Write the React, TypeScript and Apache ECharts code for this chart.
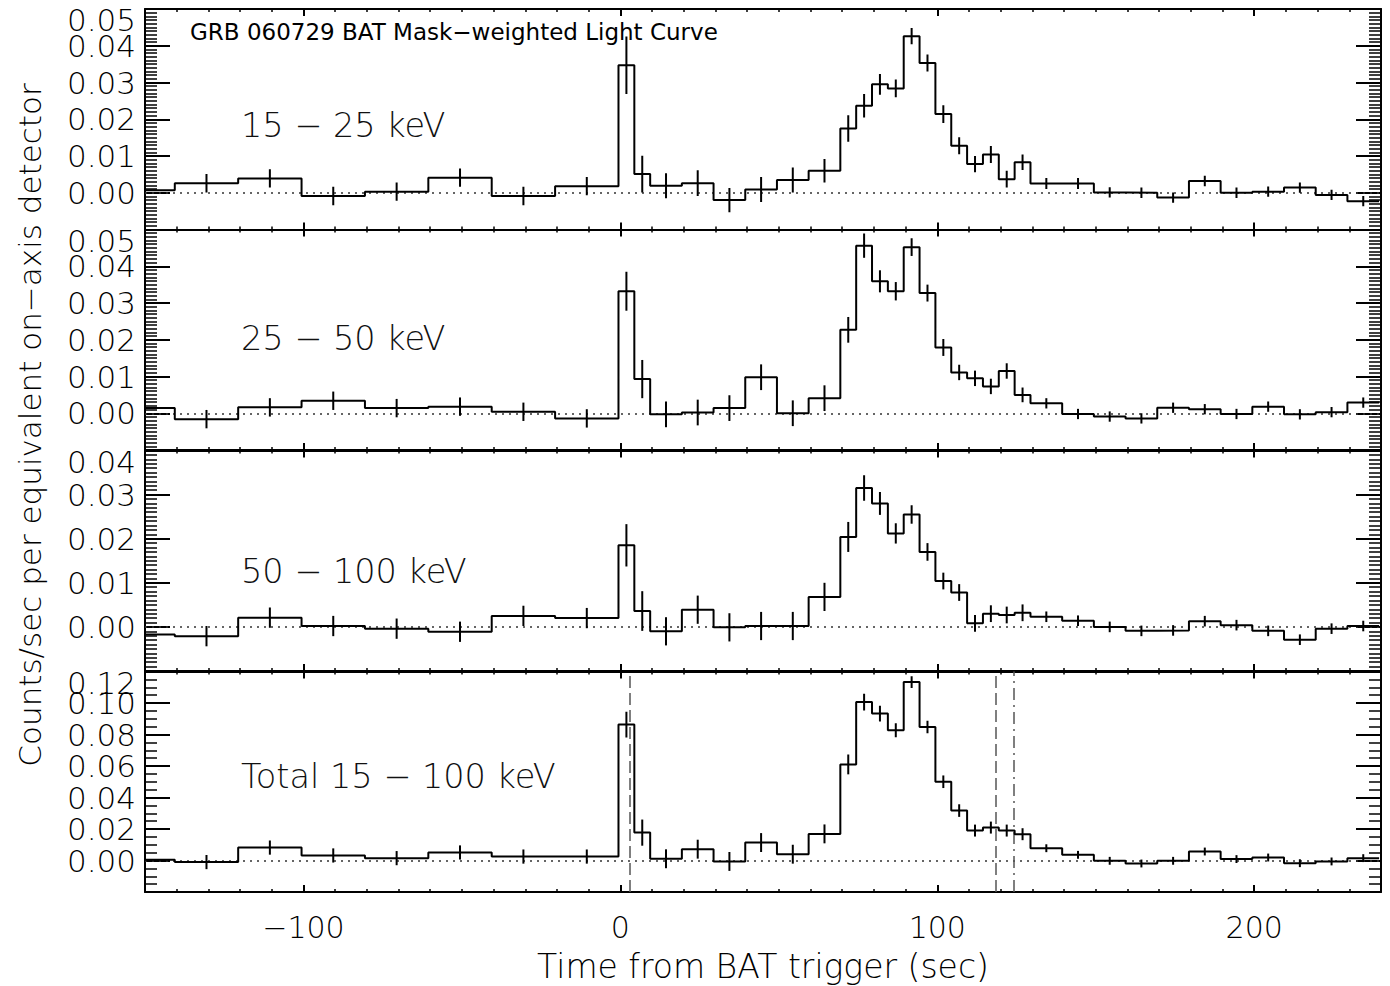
import React, { useEffect, useRef } from 'react';
import * as echarts from 'echarts';

// Bin edges (seconds from BAT trigger), 39 bins
const binEdges = [
  -160.6, -140.6, -120.6, -100.6, -80.6, -60.6, -40.6, -20.6,
  -0.6, 4.4,
  9.4, 19.4, 29.4, 39.4, 49.4, 59.4,
  69.4, 74.4, 79.4, 84.4, 89.4, 94.4, 99.4, 104.4, 109.4, 114.4, 119.4, 124.4,
  129.4, 139.4, 149.4, 159.4, 169.4, 179.4, 189.4, 199.4, 209.4, 219.4, 229.4,
  239.4,
];

const rate15_25 = [
  0.0007, 0.0026, 0.0039, -0.0009, 0.0003, 0.0041, -0.0009, 0.0018,
  0.0347, 0.0051,
  0.0019, 0.0026, -0.0020, 0.0009, 0.0035, 0.0060,
  0.0175, 0.0237, 0.0295, 0.0284, 0.0426, 0.0353, 0.0214, 0.0128, 0.0078, 0.0104, 0.0037, 0.0083,
  0.0025, 0.0025, 0.0001, 0.0000, -0.0013, 0.0032, 0.0000, 0.0003, 0.0014, -0.0006, -0.0023,
];
const err15_25 = [
  0.0025, 0.0025, 0.0025, 0.0025, 0.0025, 0.0025, 0.0025, 0.0025,
  0.0078, 0.0050,
  0.0034, 0.0035, 0.0033, 0.0034, 0.0034, 0.0032,
  0.0036, 0.0032, 0.0028, 0.0024, 0.0022, 0.0023, 0.0024, 0.0023, 0.0022, 0.0023, 0.0023, 0.0021,
  0.0015, 0.0015, 0.0014, 0.0014, 0.0014, 0.0014, 0.0014, 0.0014, 0.0014, 0.0014, 0.0014,
];

const rate25_50 = [
  0.0014, -0.0016, 0.0016, 0.0034, 0.0014, 0.0018, 0.0004, -0.0014,
  0.0332, 0.0093,
  -0.0003, 0.0002, 0.0014, 0.0098, 0.0000, 0.0041,
  0.0227, 0.0456, 0.0359, 0.0332, 0.0452, 0.0327, 0.0179, 0.0111, 0.0095, 0.0073, 0.0115, 0.0050,
  0.0027, -0.0002, -0.0009, -0.0014, 0.0015, 0.0011, -0.0002, 0.0018, -0.0003, 0.0003, 0.0029,
];
const err25_50 = [
  0.0025, 0.0025, 0.0025, 0.0025, 0.0025, 0.0025, 0.0025, 0.0025,
  0.0053, 0.0052,
  0.0035, 0.0035, 0.0035, 0.0035, 0.0035, 0.0035,
  0.0035, 0.0033, 0.0030, 0.0025, 0.0024, 0.0023, 0.0023, 0.0021, 0.0021, 0.0021, 0.0021, 0.0020,
  0.0014, 0.0014, 0.0014, 0.0014, 0.0014, 0.0014, 0.0014, 0.0014, 0.0014, 0.0014, 0.0014,
];

const rate50_100 = [
  -0.0017, -0.0021, 0.0021, 0.0002, -0.0004, -0.0011, 0.0025, 0.0020,
  0.0185, 0.0036,
  -0.0010, 0.0039, -0.0001, 0.0002, 0.0002, 0.0068,
  0.0204, 0.0315, 0.0280, 0.0212, 0.0255, 0.0170, 0.0104, 0.0078, 0.0008, 0.0030, 0.0027, 0.0032,
  0.0023, 0.0014, 0.0000, -0.0009, -0.0008, 0.0013, 0.0004, -0.0009, -0.0029, -0.0004, 0.0002,
];
const err50_100 = [
  0.0023, 0.0023, 0.0023, 0.0023, 0.0023, 0.0023, 0.0023, 0.0023,
  0.0048, 0.0045,
  0.0032, 0.0032, 0.0032, 0.0032, 0.0032, 0.0032,
  0.0034, 0.0029, 0.0026, 0.0023, 0.0021, 0.0020, 0.0019, 0.0019, 0.0019, 0.0019, 0.0019, 0.0019,
  0.0012, 0.0012, 0.0012, 0.0012, 0.0012, 0.0012, 0.0012, 0.0012, 0.0012, 0.0012, 0.0012,
];

const rateTotal = [
  0.0004, -0.0010, 0.0082, 0.0032, 0.0015, 0.0051, 0.0025, 0.0025,
  0.0863, 0.0177,
  0.0011, 0.0072, -0.0006, 0.0114, 0.0040, 0.0169,
  0.0610, 0.1006, 0.0933, 0.0827, 0.1133, 0.0848, 0.0500, 0.0317, 0.0190, 0.0209, 0.0190, 0.0167,
  0.0078, 0.0036, -0.0002, -0.0019, -0.0002, 0.0057, 0.0009, 0.0019, -0.0017, -0.0006, 0.0015,
];
const errTotal = [
  0.0045, 0.0045, 0.0045, 0.0045, 0.0045, 0.0045, 0.0045, 0.0045,
  0.0082, 0.0083,
  0.0060, 0.0060, 0.0060, 0.0060, 0.0060, 0.0060,
  0.0063, 0.0053, 0.0050, 0.0045, 0.0037, 0.0040, 0.0040, 0.0040, 0.0038, 0.0038, 0.0038, 0.0038,
  0.0025, 0.0025, 0.0025, 0.0025, 0.0025, 0.0025, 0.0025, 0.0025, 0.0025, 0.0025, 0.0025,
];

const panelRates = [rate15_25, rate25_50, rate50_100, rateTotal];
const panelErrs = [err15_25, err25_50, err50_100, errTotal];
const panelLabels = ['15 − 25 keV', '25 − 50 keV', '50 − 100 keV', 'Total 15 − 100 keV'];
const yMins = [-0.01, -0.01, -0.01, -0.02];
const yMaxs = [0.05, 0.05, 0.04, 0.12];
const yIntervals = [0.01, 0.01, 0.01, 0.02];
const yMinorSplits = [10, 10, 10, 4];
const xMin = -150;
const xMax = 240;

// Duration markers in the total panel (s)
const dashedMarkers = [3.0, 118.5];
const dashDotMarkers = [124.0];

const titleText = 'GRB 060729 BAT Mask−weighted Light Curve';
const xTitle = 'Time from BAT trigger (sec)';
const yTitle = 'Counts/sec per equivalent on−axis detector';

const FONT = "'DejaVu Sans', sans-serif";

const gridLeft = 145;
const gridWidth = 1236;
const gridTops = [9, 229.5, 450.5, 671.5];
const gridHeight = 220.5;
const labelCenters = [125, 338, 571, 776];

function fmtX(v: number): string {
  if (Math.abs(v % 100) > 1e-6) return '';
  if (v < 0) return '−' + Math.abs(v);
  return String(v);
}

export default function App() {
  const ref = useRef<HTMLDivElement>(null);

  useEffect(() => {
    if (!ref.current) return;
    const chart = echarts.init(ref.current, undefined, { renderer: 'svg' });

    const grids: any[] = [];
    const xAxes: any[] = [];
    const yAxes: any[] = [];
    const series: any[] = [];

    for (let g = 0; g < 4; g++) {
      grids.push({
        left: gridLeft, top: gridTops[g], width: gridWidth, height: gridHeight,
        containLabel: false, outerBoundsMode: 'none',
      });
      const isBottom = g === 3;
      xAxes.push({
        type: 'value', gridIndex: g, position: 'bottom', min: xMin, max: xMax, interval: 10,
        axisLine: { show: true, onZero: false, lineStyle: { color: '#000', width: 2 } },
        axisTick: { show: true, inside: true, length: 3, lineStyle: { color: '#000', width: 1.5 } },
        axisLabel: { show: false }, splitLine: { show: false },
      });
      xAxes.push({
        type: 'value', gridIndex: g, position: 'bottom', min: xMin, max: xMax, splitNumber: 4,
        axisLine: { show: false, onZero: false },
        axisTick: { show: true, inside: true, length: 7, lineStyle: { color: '#000', width: 2 } },
        axisLabel: {
          show: isBottom, showMinLabel: false, showMaxLabel: false, margin: 20,
          formatter: fmtX, color: '#000', fontSize: 30, fontFamily: FONT, fontWeight: 300,
        },
        splitLine: { show: false },
        name: isBottom ? xTitle : '', nameLocation: 'middle', nameGap: 58,
        nameTextStyle: { color: '#000', fontSize: 33, lineHeight: 33, fontFamily: FONT, fontWeight: 300 },
      });
      xAxes.push({
        type: 'value', gridIndex: g, position: 'top', min: xMin, max: xMax, interval: 10,
        axisLine: { show: true, onZero: false, lineStyle: { color: '#000', width: 2 } },
        axisTick: { show: true, inside: true, length: 3, lineStyle: { color: '#000', width: 1.5 } },
        axisLabel: { show: false }, splitLine: { show: false },
      });
      xAxes.push({
        type: 'value', gridIndex: g, position: 'top', min: xMin, max: xMax, splitNumber: 4,
        axisLine: { show: false, onZero: false },
        axisTick: { show: true, inside: true, length: 7, lineStyle: { color: '#000', width: 2 } },
        axisLabel: { show: false }, splitLine: { show: false },
      });

      const yCommon = {
        type: 'value', gridIndex: g, min: yMins[g], max: yMaxs[g], interval: yIntervals[g],
        axisLine: { show: true, onZero: false, lineStyle: { color: '#000', width: 2 } },
        axisTick: { show: true, inside: true, length: 25, lineStyle: { color: '#000', width: 2 } },
        minorTick: { show: true, splitNumber: yMinorSplits[g], length: 12, lineStyle: { color: '#000', width: 1.5 } },
        splitLine: { show: false },
        minorSplitLine: { show: false },
      };
      yAxes.push({
        ...yCommon, position: 'left',
        axisLabel: {
          show: true, margin: 9, color: '#000', fontSize: 31, lineHeight: 22, fontFamily: FONT, fontWeight: 300,
          showMinLabel: false, showMaxLabel: false,
          formatter: (v: number) => (v < -1e-9 ? '' : v.toFixed(2)),
        },
      });
      yAxes.push({ ...yCommon, position: 'right', axisLabel: { show: false } });
      // label-only axis for the top value, hung just below its tick
      yAxes.push({
        type: 'value', gridIndex: g, position: 'left', min: yMins[g], max: yMaxs[g],
        interval: yMaxs[g] - yMins[g],
        axisLine: { show: false, onZero: false }, axisTick: { show: false }, minorTick: { show: false },
        splitLine: { show: false },
        axisLabel: {
          show: true, margin: 9, color: '#000', fontSize: 31, lineHeight: 22, fontFamily: FONT, fontWeight: 300,
          verticalAlign: 'top', showMinLabel: false, showMaxLabel: true,
          formatter: (v: number) => (v > 1e-9 ? v.toFixed(2) : ''),
        },
      });

      const rates = panelRates[g];
      const errs = panelErrs[g];
      const stepData: number[][] = rates.map((v, i) => [binEdges[i], v]);
      stepData.push([binEdges[binEdges.length - 1], rates[rates.length - 1]]);
      const errData = rates.map((v, i) => [(binEdges[i] + binEdges[i + 1]) / 2, v, errs[i]]);

      const markData: any[] = [
        { yAxis: 0, lineStyle: { type: [2, 5], color: '#333', width: 1.5 } },
      ];
      if (g === 3) {
        dashedMarkers.forEach((t) => markData.push({ xAxis: t, lineStyle: { type: [12, 5], color: '#555', width: 1.5 } }));
        dashDotMarkers.forEach((t) => markData.push({ xAxis: t, lineStyle: { type: [12, 5, 2, 5], color: '#555', width: 1.5 } }));
      }

      series.push({
        type: 'line', xAxisIndex: g * 4, yAxisIndex: g * 3, data: stepData, step: 'end',
        showSymbol: false, symbol: 'none', clip: true, z: 3,
        lineStyle: { color: '#000', width: 2 },
        markLine: { silent: true, symbol: ['none', 'none'], label: { show: false }, data: markData, z: 1 },
      });
      series.push({
        type: 'custom', xAxisIndex: g * 4, yAxisIndex: g * 3, data: errData, clip: true, z: 4,
        encode: { x: 0, y: 1 },
        renderItem: (params: any, api: any) => {
          const x = api.value(0);
          const y = api.value(1);
          const e = api.value(2);
          const p1 = api.coord([x, y - e]);
          const p2 = api.coord([x, y + e]);
          return {
            type: 'line',
            shape: { x1: p1[0], y1: p1[1], x2: p2[0], y2: p2[1] },
            style: { stroke: '#000', lineWidth: 2 },
          };
        },
      });
    }

    const graphic: any[] = [
      {
        type: 'text', x: 190, y: 32,
        style: { text: titleText, fill: '#000', font: `normal 23px ${FONT}`, align: 'left', verticalAlign: 'middle' },
      },
      {
        type: 'text', x: 30, y: 425, rotation: Math.PI / 2,
        style: { text: yTitle, fill: '#000', font: `300 31px ${FONT}`, align: 'center', verticalAlign: 'middle' },
      },
    ];
    panelLabels.forEach((t, i) => {
      graphic.push({
        type: 'text', x: 241, y: labelCenters[i],
        style: { text: t, fill: '#111', font: `300 33.5px ${FONT}`, align: 'left', verticalAlign: 'middle' },
      });
    });

    chart.setOption({
      animation: false,
      backgroundColor: '#fff',
      grid: grids,
      xAxis: xAxes,
      yAxis: yAxes,
      series,
      graphic,
    });

    return () => chart.dispose();
  }, []);

  return (
    <div
      ref={ref}
      style={{ position: 'absolute', left: 0, top: 0, width: 1390, height: 986, background: '#fff' }}
    />
  );
}
